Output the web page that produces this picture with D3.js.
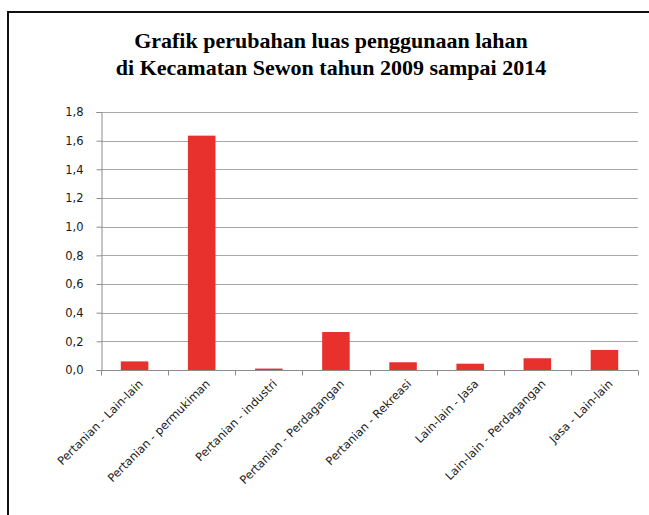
<!DOCTYPE html>
<html>
<head>
<meta charset="utf-8">
<script src="https://cdn.jsdelivr.net/npm/d3@7"></script>
<style>
  body { margin: 0; background: #fff; overflow: hidden; }
  svg { display: block; }
</style>
</head>
<body>
<div id="chart"></div>
<script>
// Data
const categories = [
    'Pertanian - Lain-lain',
    'Pertanian - permukiman',
    'Pertanian - industri',
    'Pertanian - Perdagangan',
    'Pertanian - Rekreasi',
    'Lain-lain - Jasa',
    'Lain-lain - Perdagangan',
    'Jasa - Lain-lain'
];
const values = [0.06, 1.635, 0.01, 0.265, 0.054, 0.044, 0.082, 0.14];
const yTicks = [0, 0.2, 0.4, 0.6, 0.8, 1.0, 1.2, 1.4, 1.6, 1.8];
const titleLines = [
    'Grafik perubahan luas penggunaan lahan',
    'di Kecamatan Sewon tahun 2009 sampai 2014'
];

const width = 649;
const height = 515;
const margin = { top: 112, right: 11, bottom: 145, left: 101 };

const svg = d3.select('#chart')
    .append('svg')
    .attr('width', width)
    .attr('height', height);

// Outer frame (right and bottom edges fall outside the picture)
svg.append('path')
    .attr('d', `M8,${height + 5} V12 H${width + 5}`)
    .attr('fill', 'none')
    .attr('stroke', '#111')
    .attr('stroke-width', 2);

// Title
svg.selectAll('.title')
    .data(titleLines)
    .enter()
    .append('text')
    .attr('class', 'title')
    .attr('x', 331)
    .attr('y', (d, i) => 48 + i * 27)
    .attr('text-anchor', 'middle')
    .style('font-family', '"Liberation Serif", "Times New Roman", serif')
    .style('font-weight', 'bold')
    .style('font-size', '22px')
    .text(d => d);

// Scales
const x = d3.scaleBand()
    .domain(categories)
    .range([margin.left, width - margin.right])
    .paddingInner(0.59)
    .paddingOuter(0.295);

const y = d3.scaleLinear()
    .domain([0, 1.8])
    .range([height - margin.bottom, margin.top]);

const fmt = d => d3.format('.1f')(d).replace('.', ',');

// Gridlines
svg.selectAll('.grid')
    .data(yTicks.slice(1))
    .enter()
    .append('line')
    .attr('class', 'grid')
    .attr('x1', margin.left)
    .attr('x2', width - margin.right)
    .attr('y1', d => Math.round(y(d)) + 0.5)
    .attr('y2', d => Math.round(y(d)) + 0.5)
    .attr('stroke', '#a6a6a6')
    .attr('stroke-width', 1);

// Y axis
const yAxis = svg.append('g')
    .attr('transform', `translate(${margin.left + 0.5},0)`)
    .call(d3.axisLeft(y).tickValues(yTicks).tickFormat(fmt).tickSize(5).tickPadding(13));

yAxis.selectAll('path, line').attr('stroke', '#8c8c8c');
yAxis.selectAll('text')
    .style('font-family', '"DejaVu Sans", sans-serif')
    .style('font-size', '11.5px')
    .attr('fill', '#1a1a1a');

// Bars
svg.selectAll('.bar')
    .data(values)
    .enter()
    .append('rect')
    .attr('class', 'bar')
    .attr('x', (d, i) => x(categories[i]))
    .attr('y', d => y(d))
    .attr('width', x.bandwidth())
    .attr('height', d => y(0) - y(d))
    .attr('fill', '#e8302c');

// X axis with ticks between categories
const xAxis = svg.append('g')
    .attr('transform', `translate(0,${Math.round(y(0)) + 0.5})`);

xAxis.append('line')
    .attr('x1', margin.left)
    .attr('x2', width - margin.right)
    .attr('stroke', '#8c8c8c');

const tickX = i => Math.round(margin.left + i * (width - margin.right - margin.left) / categories.length) + 0.5;

xAxis.selectAll('.xtick')
    .data(d3.range(categories.length + 1))
    .enter()
    .append('line')
    .attr('class', 'xtick')
    .attr('x1', tickX)
    .attr('x2', tickX)
    .attr('y1', 0)
    .attr('y2', 5)
    .attr('stroke', '#8c8c8c');

xAxis.selectAll('.xlabel')
    .data(categories)
    .enter()
    .append('text')
    .attr('class', 'xlabel')
    .attr('text-anchor', 'end')
    .attr('transform', d => `translate(${x(d) + x.bandwidth() / 2 + 9},${14}) rotate(-45)`)
    .style('font-family', '"DejaVu Sans", sans-serif')
    .style('font-size', '11.5px')
    .attr('fill', '#1a1a1a')
    .text(d => d);
</script>
</body>
</html>
